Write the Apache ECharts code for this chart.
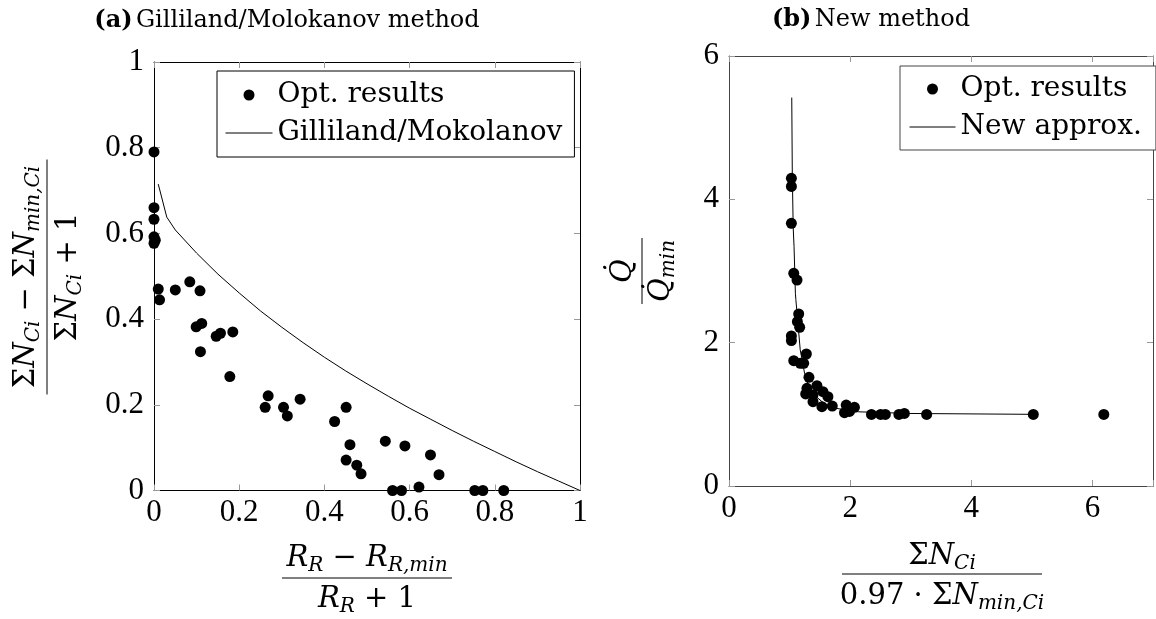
<!DOCTYPE html>
<html><head><meta charset="utf-8">
<script src="https://cdn.jsdelivr.net/npm/echarts@6/dist/echarts.min.js"></script>
<style>html,body{margin:0;padding:0;background:#fff}#c{width:1156px;height:619px}</style>
</head><body><div id="c"></div>
<script>
// ---- data ----
const leftXTicks = [0, 0.2, 0.4, 0.6, 0.8, 1];
const leftYTicks = [0, 0.2, 0.4, 0.6, 0.8, 1];
const rightXTicks = [0, 2, 4, 6];
const rightXMax = 7;
const rightYTicks = [0, 2, 4, 6];

const leftOpt = [
  [0,0.79],[0,0.66],[0,0.633],[0,0.592],[0.003,0.584],[0,0.577],
  [0.010,0.470],[0.013,0.445],[0.050,0.468],[0.084,0.487],[0.108,0.466],
  [0.099,0.382],[0.112,0.390],[0.109,0.324],[0.146,0.360],[0.156,0.367],
  [0.185,0.370],[0.178,0.266],[0.261,0.194],[0.268,0.221],[0.304,0.194],
  [0.313,0.174],[0.343,0.213],[0.424,0.161],[0.451,0.194],[0.460,0.107],
  [0.451,0.071],[0.476,0.059],[0.486,0.039],[0.543,0.115],[0.560,0],
  [0.581,0],[0.589,0.104],[0.622,0.008],[0.649,0.083],[0.669,0.037],
  [0.753,0],[0.772,0],[0.821,0]
];
const leftCurve = [
  [0.01,0.715],[0.03,0.638],[0.05,0.608],[0.1,0.554],[0.15,0.505],[0.2,0.461],
  [0.25,0.419],[0.3,0.381],[0.35,0.345],[0.4,0.311],[0.45,0.279],[0.5,0.249],
  [0.55,0.220],[0.6,0.192],[0.65,0.166],[0.7,0.140],[0.75,0.115],[0.8,0.091],
  [0.85,0.067],[0.9,0.044],[0.95,0.022],[1.0,0]
];
const rightOpt = [
  [1.03,4.293],[1.03,4.18],[1.03,3.665],[1.069,2.967],[1.123,2.874],[1.151,2.40],
  [1.129,2.293],[1.167,2.214],[1.03,2.093],[1.03,2.03],[1.069,1.749],[1.178,1.712],
  [1.277,1.842],[1.233,1.712],[1.32,1.516],[1.287,1.363],[1.266,1.284],[1.452,1.40],
  [1.387,1.27],[1.551,1.316],[1.633,1.246],[1.387,1.177],[1.534,1.107],[1.705,1.116],
  [1.935,1.130],[2.071,1.098],[1.907,1.023],[1.989,1.04],[2.352,0.998],[2.503,0.998],
  [2.581,0.998],[2.805,0.998],[2.895,1.012],[3.263,0.998],[5.024,0.998],[6.188,0.998]
];
const rightCurve = [
  [1.036,5.42],[1.045,4.35],[1.06,3.6],[1.074,3.34],[1.096,2.69],[1.104,2.6],
  [1.176,1.9],[1.248,1.571],[1.327,1.361],[1.42,1.26],[1.538,1.175],[1.65,1.12],
  [1.779,1.082],[2.141,1.035],[2.985,1.012],[5.02,1.0]
];

// ---- styling ----
const TICK_FONT = "'Liberation Serif', serif";
const TEXT_FONT = "'DejaVu Serif', serif";

function axis(type, gridIndex, pos, ticks, max, frameColor, showLabel) {
  return {
    type: 'value', gridIndex: gridIndex, position: pos,
    min: ticks[0], max: max, interval: ticks[1] - ticks[0],
    axisLine: { show: true, onZero: false, lineStyle: { color: frameColor, width: 1 } },
    axisTick: { show: true, inside: true, length: 6, lineStyle: { color: '#999', width: 1 } },
    splitLine: { show: false },
    axisLabel: {
      show: showLabel, fontFamily: TICK_FONT, fontSize: 31, color: '#000',
      margin: type === 'x' ? 7 : 10,
      formatter: function (v) { return ticks.indexOf(v) >= 0 ? String(v) : ''; }
    }
  };
}

const mathRich = {
  up: { fontFamily: TEXT_FONT, fontSize: 29, lineHeight: 36 },
  it: { fontFamily: TEXT_FONT, fontSize: 29, fontStyle: 'italic', lineHeight: 36 },
  sub: { fontFamily: TEXT_FONT, fontSize: 20, fontStyle: 'italic', lineHeight: 20, verticalAlign: 'bottom' }
};

function frac(cx, cy, rot, num, den, barLen, numOff, denOff) {
  return {
    type: 'group', x: cx, y: cy, rotation: rot,
    children: [
      { type: 'text', x: 0, y: -numOff, style: { text: num, rich: mathRich, fill: '#000', align: 'center', verticalAlign: 'middle' } },
      { type: 'line', shape: { x1: -barLen / 2, y1: 0, x2: barLen / 2, y2: 0 }, style: { stroke: '#000', lineWidth: 1 } },
      { type: 'text', x: 0, y: denOff, style: { text: den, rich: mathRich, fill: '#000', align: 'center', verticalAlign: 'middle' } }
    ]
  };
}

const legendBase = {
  orient: 'vertical', selectedMode: false,
  itemHeight: 11, itemGap: 8, backgroundColor: '#fff', borderWidth: 1,
  textStyle: { fontFamily: TEXT_FONT, fontSize: 28, color: '#000', lineHeight: 30 }
};

const chart = echarts.init(document.getElementById('c'), null, { renderer: 'canvas' });
chart.setOption({
  animation: false,
  backgroundColor: '#fff',
  grid: [
    { left: 154, top: 62, width: 426, height: 428.5 },
    { left: 729, top: 56, width: 424, height: 430 }
  ],
  xAxis: [
    axis('x', 0, 'bottom', leftXTicks, leftXTicks[leftXTicks.length - 1], '#000', true),
    axis('x', 0, 'top', leftXTicks, leftXTicks[leftXTicks.length - 1], '#000', false),
    axis('x', 1, 'bottom', rightXTicks, rightXMax, '#444', true),
    axis('x', 1, 'top', rightXTicks, rightXMax, '#444', false)
  ],
  yAxis: [
    axis('y', 0, 'left', leftYTicks, leftYTicks[leftYTicks.length - 1], '#000', true),
    axis('y', 0, 'right', leftYTicks, leftYTicks[leftYTicks.length - 1], '#000', false),
    axis('y', 1, 'left', rightYTicks, rightYTicks[rightYTicks.length - 1], '#444', true),
    axis('y', 1, 'right', rightYTicks, rightYTicks[rightYTicks.length - 1], '#444', false)
  ],
  legend: [
    Object.assign({}, legendBase, {
      left: 217, top: 71, itemWidth: 47, padding: [9, 12, 9, 8], borderColor: '#000',
      data: [
        { name: 'Opt. results', icon: 'circle', itemStyle: { color: '#000', opacity: 1 } },
        { name: 'Gilliland/Mokolanov', itemStyle: { opacity: 0 }, lineStyle: { color: '#000', width: 1, opacity: 1 } }
      ]
    }),
    Object.assign({}, legendBase, {
      left: 900, top: 66, itemWidth: 46, padding: [8, 14, 8, 9], borderColor: '#444',
      data: [
        { name: 'Opt. results', icon: 'circle', itemStyle: { color: '#000', opacity: 1 } },
        { name: 'New approx.', itemStyle: { opacity: 0 }, lineStyle: { color: '#000', width: 1, opacity: 1 } }
      ]
    })
  ],
  series: [
    { type: 'scatter', name: 'Opt. results', xAxisIndex: 0, yAxisIndex: 0, data: leftOpt,
      symbol: 'circle', symbolSize: 11, itemStyle: { color: '#000', opacity: 1 } },
    { type: 'line', name: 'Gilliland/Mokolanov', xAxisIndex: 0, yAxisIndex: 0, data: leftCurve,
      symbol: 'none', lineStyle: { color: '#000', width: 1 }, itemStyle: { color: '#000' } },
    { type: 'scatter', name: 'Opt. results', xAxisIndex: 2, yAxisIndex: 2, data: rightOpt,
      symbol: 'circle', symbolSize: 11, itemStyle: { color: '#000', opacity: 1 } },
    { type: 'line', name: 'New approx.', xAxisIndex: 2, yAxisIndex: 2, data: rightCurve,
      symbol: 'none', lineStyle: { color: '#000', width: 1 }, itemStyle: { color: '#000' } }
  ],
  graphic: [
    { type: 'text', x: 287, y: 21, style: {
        text: '{b|(a)} {n|Gilliland/Molokanov method}', align: 'center', verticalAlign: 'middle', fill: '#000',
        rich: { b: { fontFamily: TEXT_FONT, fontSize: 24, fontWeight: 'bold' }, n: { fontFamily: TEXT_FONT, fontSize: 24 } } } },
    { type: 'text', x: 871, y: 20, style: {
        text: '{b|(b)} {n|New method}', align: 'center', verticalAlign: 'middle', fill: '#000',
        rich: { b: { fontFamily: TEXT_FONT, fontSize: 24, fontWeight: 'bold' }, n: { fontFamily: TEXT_FONT, fontSize: 24 } } } },
    frac(367, 578, 0, '{it|R}{sub|R}{up| − }{it|R}{sub|R,min}', '{it|R}{sub|R}{up| + 1}', 170, 20, 21),
    frac(942, 574, 0, '{up|Σ}{it|N}{sub|Ci}', '{up|0.97 · Σ}{it|N}{sub|min,Ci}', 200, 18, 22),
    frac(47, 277, Math.PI / 2, '{up|Σ}{it|N}{sub|Ci}{up| − Σ}{it|N}{sub|min,Ci}', '{up|Σ}{it|N}{sub|Ci}{up| + 1}', 235, 21, 21),
    frac(642, 271, Math.PI / 2, '{it|Q̇}', '{it|Q̇}{sub|min}', 66, 19, 19)
  ]
});
</script>
</body></html>
